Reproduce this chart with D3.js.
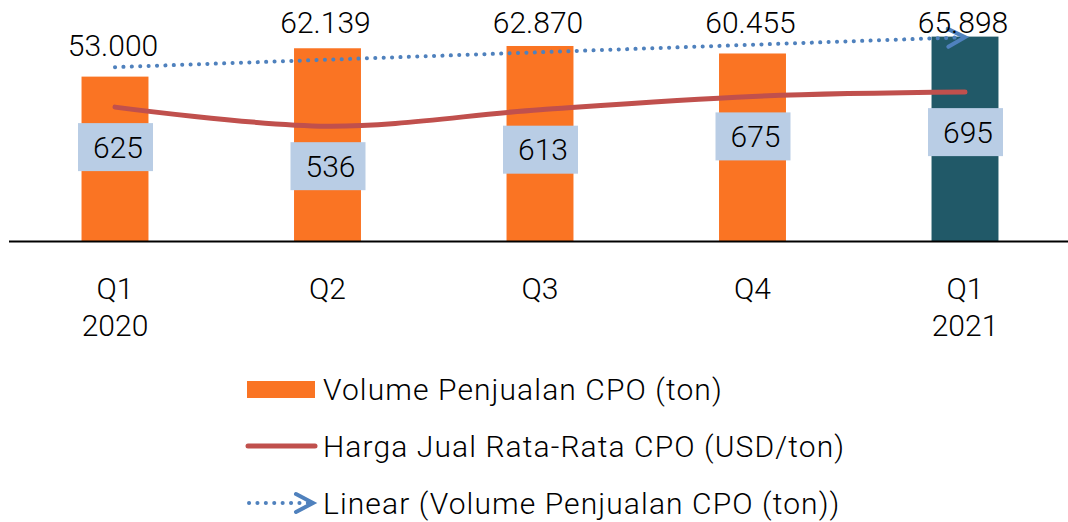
<!DOCTYPE html>
<html>
<head>
<meta charset="utf-8">
<script src="https://cdn.jsdelivr.net/npm/d3@7"></script>
<style>
  body { margin: 0; background: #fff; }
  svg text { font-family: Roboto, "DejaVu Sans", sans-serif; font-weight: 300; fill: #000; }
</style>
</head>
<body>
<svg width="1068" height="522"></svg>
<script>
// chart data
var quarters = ["Q1 2020", "Q2", "Q3", "Q4", "Q1 2021"];
var tickLines = [["Q1", "2020"], ["Q2"], ["Q3"], ["Q4"], ["Q1", "2021"]];
var volume = [53000, 62139, 62870, 60455, 65898];        // Volume Penjualan CPO (ton)
var volumeLabels = ["53.000", "62.139", "62.870", "60.455", "65.898"];
var price = [625, 536, 613, 675, 695];                     // Harga Jual Rata-Rata CPO (USD/ton)
var legendNames = ["Volume Penjualan CPO (ton)", "Harga Jual Rata-Rata CPO (USD/ton)", "Linear (Volume Penjualan CPO (ton))"];

var svg = d3.select("svg"),
    baseY = 241;

var orange = "#fa7423", teal = "#215968", red = "#c0504d", blue = "#4f81bd", boxFill = "#b9cde5";

var x = d3.scaleBand().domain(quarters).range([8.75, 1071.25]).paddingInner(0.685).paddingOuter(0.3425);
var y = d3.scaleLinear().domain([0, 77700]).range([baseY, 0]);
var y2 = d3.scaleLinear().domain([0, 1125]).range([baseY, 0]);

var cx = function(d, i) { return x(quarters[i]) + x.bandwidth() / 2; };

// bars
svg.selectAll(".bar")
  .data(volume)
  .enter().append("rect")
    .attr("class", "bar")
    .attr("x", function(d, i) { return x(quarters[i]); })
    .attr("y", function(d) { return y(d); })
    .attr("width", x.bandwidth())
    .attr("height", function(d) { return baseY - y(d); })
    .attr("fill", function(d, i) { return i == volume.length - 1 ? teal : orange; });

// x axis
var axis = svg.append("g")
    .attr("transform", "translate(0," + baseY + ")")
    .call(d3.axisBottom(x).tickSize(0).tickFormat(""));
axis.select(".domain").attr("stroke", "#000").attr("stroke-width", 2).attr("d", "M9,0.5H1068");
axis.selectAll(".tick").each(function(d, i) {
  var t = d3.select(this).append("text")
      .attr("y", 58)
      .attr("text-anchor", "middle")
      .style("font-size", "30px")
      .style("fill", "#000");
  tickLines[i].forEach(function(s, k) {
    t.append("tspan").attr("x", 0).attr("dy", k == 0 ? 0 : 37).text(s);
  });
});

// dotted line with open chevron at the end
function dotted(g, x1, y1, x2, y2) {
  g.append("line")
      .attr("x1", x1).attr("y1", y1)
      .attr("x2", x2).attr("y2", y2)
      .attr("stroke", blue)
      .attr("stroke-width", 4)
      .attr("stroke-dasharray", "0.1 8.3")
      .attr("stroke-linecap", "round");
  var a = Math.atan2(y2 - y1, x2 - x1) * 180 / Math.PI;
  g.append("path")
      .attr("transform", "translate(" + x2 + "," + y2 + ") rotate(" + a + ")")
      .attr("d", "M-17,-9 L0,0 L-17,9")
      .attr("fill", "none")
      .attr("stroke", blue)
      .attr("stroke-width", 4)
      .attr("stroke-linecap", "round")
      .attr("stroke-linejoin", "miter");
}

// linear trend of volume (least squares on the bar values)
var n = volume.length,
    mx = d3.mean(volume, function(d, i) { return i; }),
    my = d3.mean(volume),
    slope = d3.sum(volume, function(d, i) { return (i - mx) * (d - my); }) / d3.sum(volume, function(d, i) { return (i - mx) * (i - mx); }),
    icpt = my - slope * mx;

dotted(svg, cx(0, 0), y(icpt), cx(0, n - 1), y(icpt + slope * (n - 1)));

// price line
var line = d3.line()
    .x(function(d, i) { return cx(d, i); })
    .y(function(d) { return y2(d); })
    .curve(d3.curveCatmullRom.alpha(0.5));

svg.append("path")
    .datum(price)
    .attr("d", line)
    .attr("fill", "none")
    .attr("stroke", red)
    .attr("stroke-width", 5)
    .attr("stroke-linecap", "round");

// price labels in boxes
var pl = svg.selectAll(".plabel")
  .data(price)
  .enter().append("g")
    .attr("class", "plabel")
    .attr("transform", function(d, i) { return "translate(" + cx(d, i) + "," + (y2(d) + 40) + ")"; });
pl.append("rect")
    .attr("x", -37).attr("y", -24)
    .attr("width", 75).attr("height", 48)
    .attr("fill", boxFill);
pl.append("text")
    .attr("x", 3)
    .attr("dy", "0.36em")
    .attr("text-anchor", "middle")
    .style("font-size", "30px")
    .text(function(d) { return d; });

// volume labels
svg.selectAll(".vlabel")
  .data(volume)
  .enter().append("text")
    .attr("class", "vlabel")
    .attr("x", function(d, i) { return cx(d, i) - 2; })
    .attr("y", function(d) { return Math.max(y(d) - 31, 22); })
    .attr("dy", "0.36em")
    .attr("text-anchor", "middle")
    .style("font-size", "30px")
    .text(function(d, i) { return volumeLabels[i]; });

// legend
var lg = svg.append("g").attr("transform", "translate(247,0)");
lg.append("rect").attr("x", 0).attr("y", 381).attr("width", 68).attr("height", 17).attr("fill", orange);
lg.append("line").attr("x1", 1).attr("x2", 68).attr("y1", 446).attr("y2", 446)
    .attr("stroke", red).attr("stroke-width", 5).attr("stroke-linecap", "round");
dotted(lg, 2, 503, 66, 503);
lg.selectAll(".ltext")
  .data(legendNames)
  .enter().append("text")
    .attr("class", "ltext")
    .attr("x", 76)
    .attr("y", function(d, i) { return [389, 446, 503][i]; })
    .attr("dy", "0.36em")
    .style("font-size", "30px")
    .style("letter-spacing", "1.1px")
    .text(function(d) { return d; });
</script>
</body>
</html>
